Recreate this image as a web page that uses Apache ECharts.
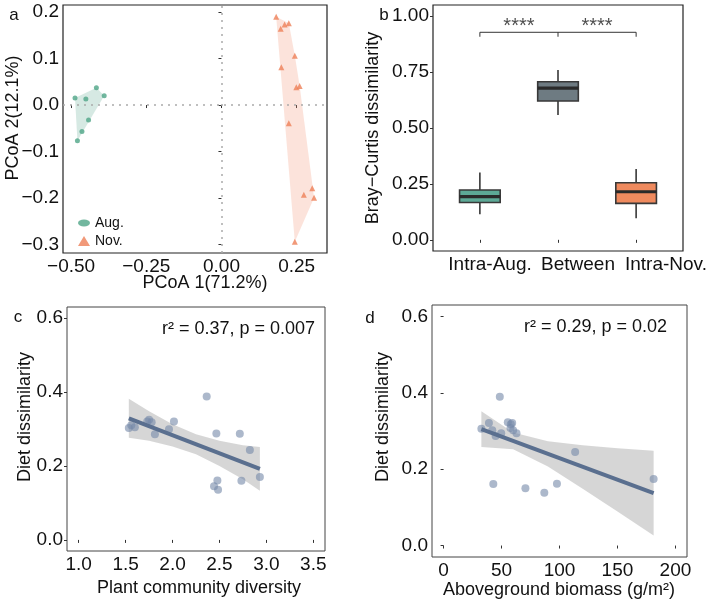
<!DOCTYPE html>
<html>
<head>
<meta charset="utf-8">
<title>PCoA, Bray-Curtis and diet dissimilarity</title>
<script src="https://cdn.jsdelivr.net/npm/echarts@6/dist/echarts.min.js"></script>
<style>
html, body { margin: 0; padding: 0; background: #fff; }
#chart { width: 709px; height: 607px; }
</style>
</head>
<body>
<div id="chart"></div>
<script>
// ---- a: PCoA scores ----
var augX = [-0.487, -0.451, -0.416, -0.390, -0.442, -0.464, -0.479];
var augY = [0.015, 0.013, 0.037, 0.020, -0.032, -0.057, -0.077];
var novX = [0.182, 0.197, 0.210, 0.224, 0.199, 0.244, 0.249, 0.260, 0.224, 0.302, 0.274, 0.308, 0.244];
var novY = [0.190, 0.164, 0.173, 0.176, 0.081, 0.106, 0.038, 0.041, -0.039, -0.179, -0.193, -0.199, -0.294];
var pcoaXTicks = [-0.5, -0.25, 0, 0.25];
var pcoaYTicks = [-0.3, -0.2, -0.1, 0, 0.1, 0.2];

// ---- b: Bray-Curtis boxes ----
var boxCats = ['Intra-Aug.', 'Between', 'Intra-Nov.'];
var boxLow  = [0.114, 0.558, 0.096];
var boxQ1   = [0.167, 0.621, 0.163];
var boxMed  = [0.193, 0.678, 0.215];
var boxQ3   = [0.223, 0.707, 0.255];
var boxHigh = [0.301, 0.759, 0.317];
var bcTicks = [0, 0.25, 0.5, 0.75, 1];
var starX = [1.5, 2.5];
var starY = 0.952;
var bracketX = [1, 1, 3, 3];
var bracketY = [0.908, 0.928, 0.928, 0.908];
var bracketMidX = [2, 2];
var bracketMidY = [0.928, 0.908];

// ---- c: plant community diversity ----
var divX = [1.534, 1.560, 1.598, 1.730, 1.750, 1.777, 1.812, 1.962, 2.015, 2.364, 2.467, 2.442, 2.478, 2.485, 2.717, 2.734, 2.824, 2.931];
var divY = [0.303, 0.310, 0.305, 0.320, 0.325, 0.318, 0.286, 0.299, 0.320, 0.388, 0.288, 0.145, 0.161, 0.136, 0.287, 0.160, 0.243, 0.170];
var fitCX = [1.534, 2.931];
var fitCY = [0.329, 0.192];
var bandCX = [1.534, 1.75, 2.0, 2.25, 2.5, 2.75, 2.931];
var bandCHi = [0.382, 0.348, 0.313, 0.286, 0.268, 0.256, 0.251];
var bandCLo = [0.276, 0.268, 0.253, 0.232, 0.200, 0.164, 0.133];
var divXTicks = [1, 1.5, 2, 2.5, 3, 3.5];

// ---- d: aboveground biomass ----
var bioX = [48.5, 32.6, 39.1, 42.0, 44.9, 49.7, 55.4, 59.2, 58.0, 57.7, 60.0, 62.9, 113.5, 42.9, 70.6, 86.9, 97.8, 181.2];
var bioY = [0.390, 0.306, 0.321, 0.302, 0.287, 0.294, 0.323, 0.321, 0.318, 0.308, 0.302, 0.294, 0.245, 0.161, 0.150, 0.138, 0.162, 0.174];
var fitDX = [32.6, 181.2];
var fitDY = [0.305, 0.137];
var bandDX = [32.6, 60, 90, 120, 150, 181.2];
var bandDHi = [0.352, 0.296, 0.273, 0.263, 0.255, 0.248];
var bandDLo = [0.258, 0.252, 0.207, 0.149, 0.089, 0.026];
var bioXTicks = [0, 50, 100, 150, 200];
var dietTicks = [0, 0.2, 0.4, 0.6];

var FONT = '"Liberation Sans", Arial, sans-serif';
var TXT = '#111';
var boxColors = ['#5da896', '#6e7b82', '#ef8a5e'];

function minus(s) { return s.replace('-', '\u2212'); }

function valAxis(gi, min, max, ticks, fmt, labelVals) {
    return {
        type: 'value', gridIndex: gi, min: min, max: max,
        axisLine: { show: false },
        splitLine: { show: false },
        axisTick: { show: true, length: 3, lineStyle: { color: '#333', width: 1 }, customValues: ticks },
        axisLabel: { customValues: labelVals || ticks, formatter: fmt, fontSize: 19, color: TXT, fontFamily: FONT, margin: 4 }
    };
}

// convex hull (monotone chain)
function hull(xs, ys) {
    var p = xs.map(function (x, i) { return [x, ys[i]]; });
    p.sort(function (a, b) { return a[0] - b[0] || a[1] - b[1]; });
    function cross(o, a, b) { return (a[0] - o[0]) * (b[1] - o[1]) - (a[1] - o[1]) * (b[0] - o[0]); }
    var lower = [], upper = [];
    for (var i = 0; i < p.length; i++) {
        while (lower.length >= 2 && cross(lower[lower.length - 2], lower[lower.length - 1], p[i]) <= 0) lower.pop();
        lower.push(p[i]);
    }
    for (var j = p.length - 1; j >= 0; j--) {
        while (upper.length >= 2 && cross(upper[upper.length - 2], upper[upper.length - 1], p[j]) <= 0) upper.pop();
        upper.push(p[j]);
    }
    lower.pop(); upper.pop();
    return lower.concat(upper);
}

function bandPts(xs, hi, lo) {
    var pts = xs.map(function (x, i) { return [x, hi[i]]; });
    for (var i = xs.length - 1; i >= 0; i--) pts.push([xs[i], lo[i]]);
    return pts;
}

function polySeries(ai, pts, color, opacity, z) {
    return {
        type: 'custom', xAxisIndex: ai, yAxisIndex: ai, silent: true, z: z,
        data: [pts[0]],
        renderItem: function (params, api) {
            return {
                type: 'polygon',
                shape: { points: pts.map(function (p) { return api.coord(p); }) },
                style: { fill: color, opacity: opacity }
            };
        }
    };
}

function pairs(xs, ys) { return xs.map(function (x, i) { return [x, ys[i]]; }); }

function txt(x, y, s, size, opts) {
    opts = opts || {};
    return {
        type: 'text', x: x, y: y, rotation: opts.rot || 0, silent: true,
        style: { text: s, fontSize: size, fontFamily: FONT, fill: TXT, align: opts.align || 'center', verticalAlign: 'middle' }
    };
}

var chart = echarts.init(document.getElementById('chart'));

var gridStyle = { show: true, borderColor: '#222', borderWidth: 1.2, outerBoundsMode: 'none' };

var option = {
    animation: false,
    backgroundColor: '#fff',
    grid: [
        Object.assign({ left: 63, top: 5, width: 264, height: 248 }, gridStyle),
        Object.assign({ left: 433, top: 5, width: 250, height: 246 }, gridStyle),
        Object.assign({ left: 67, top: 307, width: 258, height: 244 }, gridStyle, { borderColor: '#444', borderWidth: 1 }),
        Object.assign({ left: 432, top: 305, width: 255, height: 252 }, gridStyle, { borderColor: '#444', borderWidth: 1 })
    ],
    xAxis: [
        valAxis(0, -0.527, 0.351, pcoaXTicks, function (v) { return minus(v.toFixed(2)); }),
        valAxis(1, 0.4, 3.6, [1, 2, 3], function (v) { return boxCats[Math.round(v) - 1]; }, [1.13, 2.256, 3.382]),
        valAxis(2, 0.875, 3.625, divXTicks, function (v) { return v.toFixed(1); }),
        valAxis(3, -10, 210, bioXTicks, function (v) { return String(v); })
    ],
    yAxis: [
        valAxis(0, -0.318, 0.215, pcoaYTicks, function (v) { return minus(v.toFixed(1)); }),
        valAxis(1, -0.05, 1.05, bcTicks, function (v) { return v.toFixed(2); }),
        valAxis(2, -0.03, 0.63, dietTicks, function (v) { return v.toFixed(1); }),
        valAxis(3, -0.03, 0.63, dietTicks, function (v) { return v.toFixed(1); })
    ],
    legend: {
        data: [
            { name: 'Aug.', icon: 'path://M0,4a7,4 0 1,0 14,0a7,4 0 1,0 -14,0' },
            { name: 'Nov.', icon: 'triangle' }
        ],
        orient: 'vertical', left: 73, top: 211,
        itemWidth: 12, itemHeight: 10, itemGap: 4, selectedMode: false,
        textStyle: { fontSize: 14, color: TXT, fontFamily: FONT }
    },
    series: [
        // a
        polySeries(0, hull(augX, augY), '#5aa88e', 0.25, 1),
        polySeries(0, hull(novX, novY), '#f39070', 0.25, 1),
        {
            name: 'Aug.', type: 'scatter', xAxisIndex: 0, yAxisIndex: 0, z: 3,
            symbol: 'circle', symbolSize: 5, itemStyle: { color: '#4fa587' },
            data: pairs(augX, augY),
            markLine: {
                silent: true, symbol: 'none', label: { show: false },
                lineStyle: { type: [2, 5], color: '#aaa', width: 1.5 },
                data: [{ xAxis: 0 }, { yAxis: 0 }]
            }
        },
        {
            name: 'Nov.', type: 'scatter', xAxisIndex: 0, yAxisIndex: 0, z: 3,
            symbol: 'triangle', symbolSize: 6, itemStyle: { color: '#ee7f57' },
            data: pairs(novX, novY)
        },
        // b
        {
            type: 'custom', xAxisIndex: 1, yAxisIndex: 1, z: 3, silent: true,
            data: boxCats.map(function (c, i) { return [i + 1, boxLow[i], boxQ1[i], boxMed[i], boxQ3[i], boxHigh[i]]; }),
            renderItem: function (params, api) {
                var x = api.value(0);
                var lo = api.coord([x, api.value(1)]);
                var q1 = api.coord([x, api.value(2)]);
                var md = api.coord([x, api.value(3)]);
                var q3 = api.coord([x, api.value(4)]);
                var hi = api.coord([x, api.value(5)]);
                var hw = api.size([0.52, 0])[0] / 2;
                var stroke = { stroke: '#383838', lineWidth: 1.6 };
                return {
                    type: 'group',
                    children: [
                        { type: 'line', shape: { x1: lo[0], y1: lo[1], x2: q1[0], y2: q1[1] }, style: stroke },
                        { type: 'line', shape: { x1: q3[0], y1: q3[1], x2: hi[0], y2: hi[1] }, style: stroke },
                        { type: 'rect', shape: { x: q3[0] - hw, y: q3[1], width: hw * 2, height: q1[1] - q3[1] },
                          style: { fill: boxColors[params.dataIndex], stroke: '#383838', lineWidth: 1.6 } },
                        { type: 'line', shape: { x1: md[0] - hw, y1: md[1], x2: md[0] + hw, y2: md[1] },
                          style: { stroke: '#2a2a2a', lineWidth: 3.2 } }
                    ]
                };
            }
        },
        {
            type: 'line', xAxisIndex: 1, yAxisIndex: 1, symbol: 'none', silent: true,
            lineStyle: { color: '#333', width: 1 }, data: pairs(bracketX, bracketY)
        },
        {
            type: 'line', xAxisIndex: 1, yAxisIndex: 1, symbol: 'none', silent: true,
            lineStyle: { color: '#333', width: 1 }, data: pairs(bracketMidX, bracketMidY)
        },
        {
            type: 'scatter', xAxisIndex: 1, yAxisIndex: 1, symbolSize: 0, silent: true,
            data: starX.map(function (x) { return [x, starY]; }),
            label: { show: true, position: 'inside', formatter: '****', fontSize: 20, color: '#222', fontFamily: FONT }
        },
        // c
        polySeries(2, bandPts(bandCX, bandCHi, bandCLo), '#999', 0.4, 1),
        {
            type: 'scatter', xAxisIndex: 2, yAxisIndex: 2, z: 2, symbolSize: 8,
            itemStyle: { color: '#7589a8', opacity: 0.6 }, data: pairs(divX, divY)
        },
        {
            type: 'line', xAxisIndex: 2, yAxisIndex: 2, z: 4, symbol: 'none', silent: true,
            lineStyle: { color: '#5a6f8f', width: 4 }, data: pairs(fitCX, fitCY)
        },
        // d
        polySeries(3, bandPts(bandDX, bandDHi, bandDLo), '#999', 0.4, 1),
        {
            type: 'scatter', xAxisIndex: 3, yAxisIndex: 3, z: 2, symbolSize: 8,
            itemStyle: { color: '#7589a8', opacity: 0.6 }, data: pairs(bioX, bioY)
        },
        {
            type: 'line', xAxisIndex: 3, yAxisIndex: 3, z: 4, symbol: 'none', silent: true,
            lineStyle: { color: '#5a6f8f', width: 4 }, data: pairs(fitDX, fitDY)
        }
    ],
    graphic: [
        txt(14, 15, 'a', 17), txt(384, 15, 'b', 17), txt(18, 317, 'c', 17), txt(370, 318, 'd', 17),
        txt(205, 283, 'PCoA 1(71.2%)', 18),
        txt(13, 118, 'PCoA 2(12.1%)', 18, { rot: Math.PI / 2 }),
        txt(373, 128, 'Bray\u2212Curtis dissimilarity', 18, { rot: Math.PI / 2 }),
        txt(199, 588, 'Plant community diversity', 18),
        txt(25, 417, 'Diet dissimilarity', 18, { rot: Math.PI / 2 }),
        txt(559, 590, 'Aboveground biomass (g/m\u00b2)', 18),
        txt(383, 417, 'Diet dissimilarity', 18, { rot: Math.PI / 2 }),
        txt(315, 329, 'r\u00b2 = 0.37, p = 0.007', 18, { align: 'right' }),
        txt(667, 327, 'r\u00b2 = 0.29, p = 0.02', 18, { align: 'right' })
    ]
};

chart.setOption(option);
</script>
</body>
</html>
